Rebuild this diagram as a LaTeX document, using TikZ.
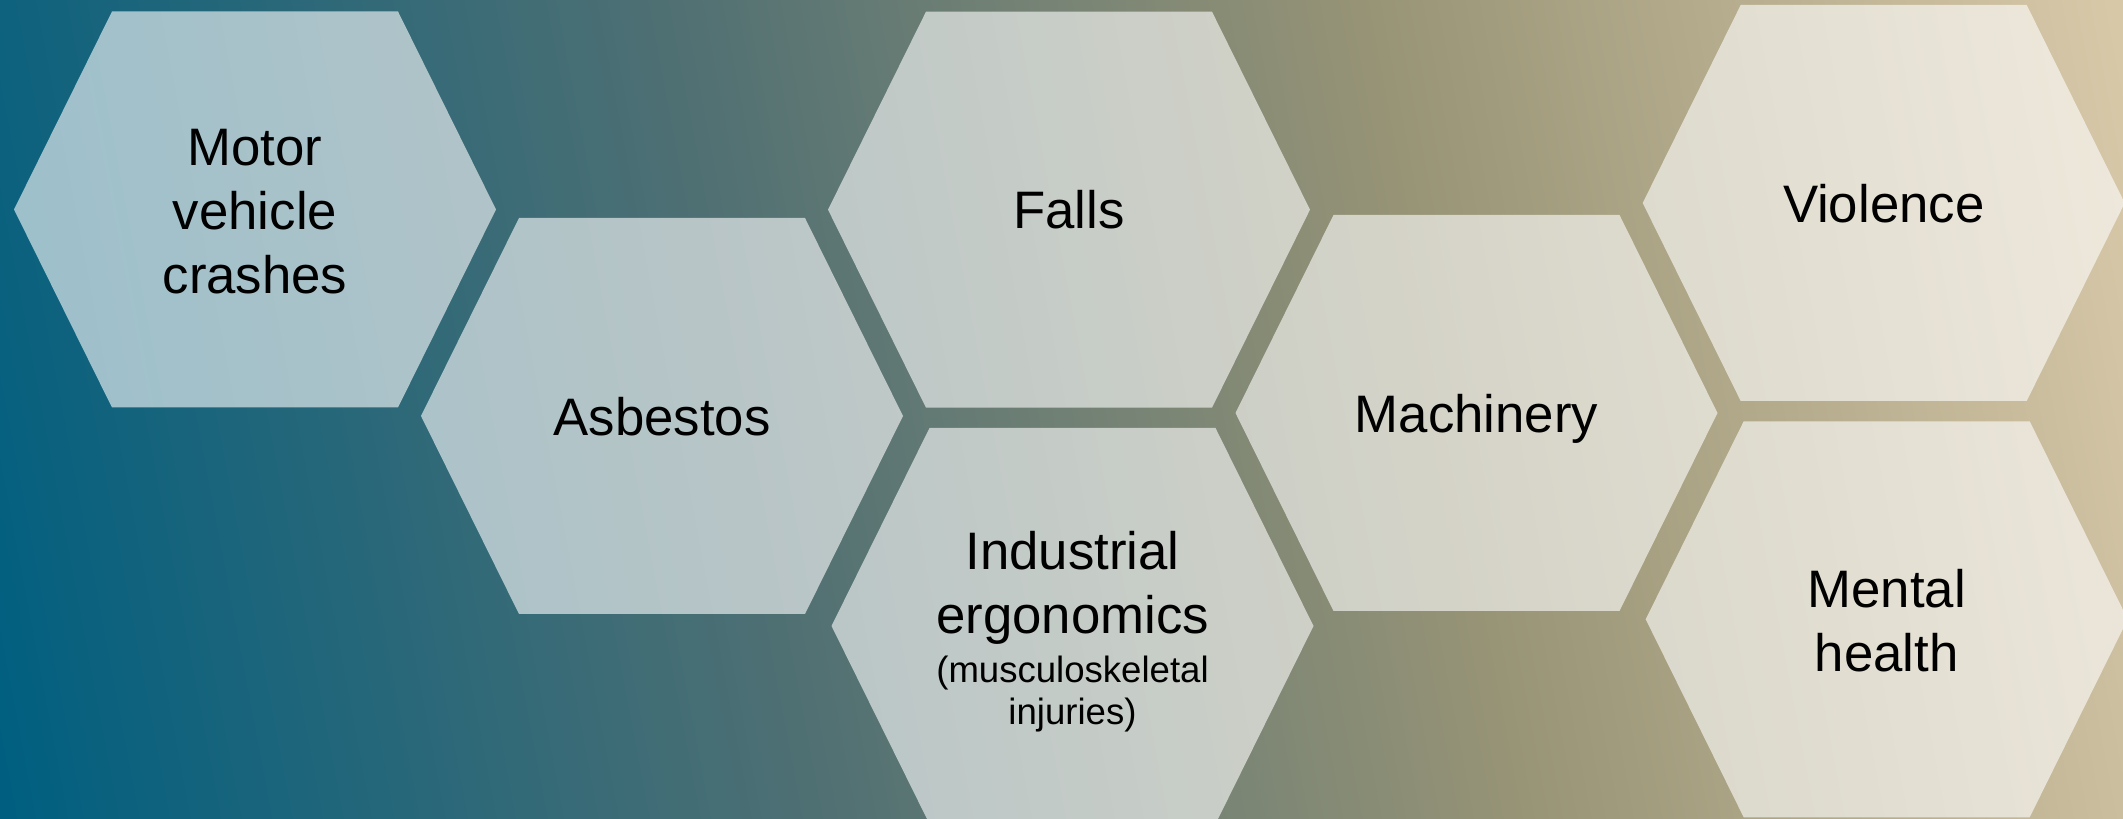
\documentclass[tikz,border=0pt]{standalone}
\usepackage{fontspec}
\setmainfont{Liberation Sans}

\definecolor{fondA}{RGB}{0,95,128}
\definecolor{fondB}{RGB}{80,112,115}
\definecolor{fondC}{RGB}{152,148,118}
\definecolor{fondD}{RGB}{215,200,168}
\pgfdeclarehorizontalshading{fondhex}{100bp}{color(0bp)=(fondA); color(21bp)=(fondA);
  color(42bp)=(fondB); color(60bp)=(fondC); color(79bp)=(fondD); color(100bp)=(fondD)}

% centre x, centre y (demi-largeur 241, demi-cote 143, demi-hauteur 198)
\newcommand{\hexagone}[2]{%
  \fill[hexfond] (#1-241,#2) -- (#1-143,#2-198) -- (#1+143,#2-198) -- (#1+241,#2)
    -- (#1+143,#2+198) -- (#1-143,#2+198) -- cycle;}
\newcommand{\petit}{\fontsize{10.4pt}{12pt}\selectfont}

\begin{document}
\begin{tikzpicture}[x=0.01cm, y=-0.01cm]
\tikzset{hexfond/.style={fill=white, fill opacity=0.6},
  hexnoeud/.style={align=center, text depth=0pt, font=\fontsize{15pt}{18.2pt}\selectfont}}
\useasboundingbox (0,0) rectangle (2123,819);
\clip (0,0) rectangle (2123,819);
\shade[shading=fondhex, shading angle=10.7] (0,0) rectangle (2123,819);
\hexagone{255}{209.5}
\hexagone{662}{416}
\hexagone{1069}{209.7}
\hexagone{1072.5}{626}
\hexagone{1476.5}{413}
\hexagone{1883.7}{203}
\hexagone{1886.7}{619.3}
\node[hexnoeud] (H1) at (255,211) {Motor\\vehicle\\crashes};
\node[hexnoeud] (H2) at (662,416) {Asbestos};
\node[hexnoeud] (H3) at (1069,209.7) {Falls};
\node[hexnoeud] (H4) at (1072.5,628) {Industrial\\ergonomics\\[-0.147cm]{\petit (musculoskeletal}\\[-0.223cm]{\petit injuries)}};
\node[hexnoeud] (H5) at (1476.5,413) {Machinery};
\node[hexnoeud] (H6) at (1883.7,203) {Violence};
\node[hexnoeud] (H7) at (1886.7,620.5) {Mental\\health};
\end{tikzpicture}
\end{document}
